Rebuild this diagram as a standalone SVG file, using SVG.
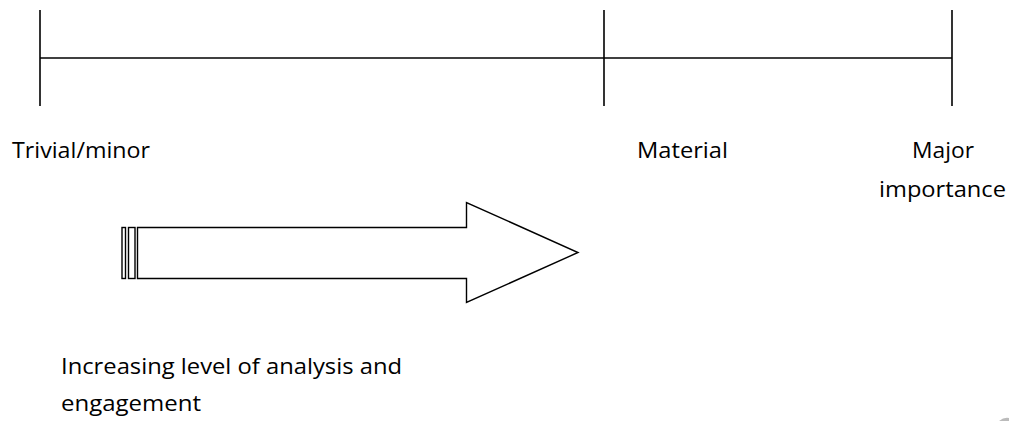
<svg xmlns="http://www.w3.org/2000/svg" width="1009" height="421" viewBox="0 0 1009 421">
  <style>
    .ln { stroke: #000; stroke-width: 1.6; fill: none; }
    .sh { stroke: #000; stroke-width: 1.4; fill: #fff; stroke-linejoin: miter; }
    .lbl { font-family: "Open Sans", "Noto Sans", "Liberation Sans", sans-serif; font-size: 21px; fill: #000; }
  </style>
  <rect width="1009" height="421" fill="#fff"/>
  <g id="scale">
    <line class="ln" x1="40" y1="58" x2="952" y2="58"/>
    <line class="ln" x1="40" y1="10" x2="40" y2="106"/>
    <line class="ln" x1="604" y1="10" x2="604" y2="106"/>
    <line class="ln" x1="952" y1="10" x2="952" y2="106"/>
  </g>
  <g id="label-trivial"><text class="lbl" x="12" y="157.5" textLength="138" lengthAdjust="spacingAndGlyphs">Trivial/minor</text></g>
  <g id="label-material"><text class="lbl" x="637" y="158" textLength="91" lengthAdjust="spacingAndGlyphs">Material</text></g>
  <g id="label-major">
    <text class="lbl" x="912" y="158" textLength="62" lengthAdjust="spacingAndGlyphs">Major</text>
    <text class="lbl" x="879" y="197" textLength="127" lengthAdjust="spacingAndGlyphs">importance</text>
  </g>
  <g id="arrow">
    <rect class="sh" x="122" y="227.5" width="3.5" height="51"/>
    <rect class="sh" x="128.5" y="227.5" width="6.5" height="51"/>
    <polygon class="sh" points="137.5,227.5 466.5,227.5 466.5,202.5 578,252.5 466.5,302.5 466.5,278.5 137.5,278.5"/>
  </g>
  <g id="label-arrow">
    <text class="lbl" x="61" y="373.5" textLength="341" lengthAdjust="spacingAndGlyphs">Increasing level of analysis and</text>
    <text class="lbl" x="61" y="411" textLength="140" lengthAdjust="spacingAndGlyphs">engagement</text>
  </g>
  <path d="M999,421 Q1004,417 1009,418 L1009,421 Z" fill="#bbb"/>
</svg>
